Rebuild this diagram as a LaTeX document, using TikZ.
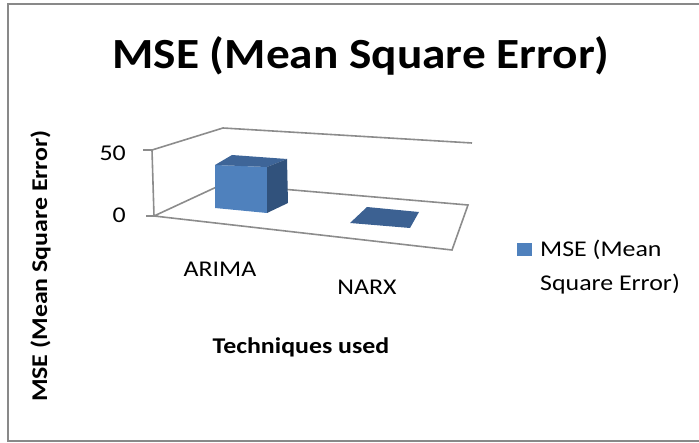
\documentclass[tikz,border=0pt]{standalone}
\usepackage{fontspec}
\setmainfont{Carlito}
\newfontfamily\chartfont{Carlito}[FakeStretch=1.15]
\newfontfamily\headfont{Carlito}[FakeStretch=1.1]
\usetikzlibrary{positioning}

\definecolor{framegray}{RGB}{137,137,137}
\definecolor{axisgray}{RGB}{140,140,140}
\definecolor{barfront}{RGB}{79,129,189}
\definecolor{bartop}{RGB}{62,101,152}
\definecolor{barside}{RGB}{49,82,124}
\definecolor{barflat}{RGB}{60,97,146}

\begin{document}
\begin{tikzpicture}[x=1pt,y=-1pt,
  axisline/.style={draw=axisgray, line width=1.6pt},
  ticklabel/.style={font=\chartfont\fontsize{22.5}{26}\selectfont, anchor=base east, inner sep=0pt},
  catlabel/.style={font=\chartfont\fontsize{22.5}{26}\selectfont, anchor=base, inner sep=0pt},
  boldlabel/.style={font=\chartfont\bfseries\fontsize{22.5}{26}\selectfont, anchor=base, inner sep=0pt}]
  \useasboundingbox (0,0) rectangle (699,443);
  % Chart frame (right side runs off the page)
  \draw[framegray, line width=1.5pt] (705,4) -- (8,4) -- (8,441) -- (705,441);
  % Title
  \node[font=\headfont\bfseries\fontsize{43}{50}\selectfont, anchor=base, inner sep=0pt] (title) at (361,69) {MSE (Mean Square Error)};
  % Walls and floor
  \coordinate (lt) at (152,150);
  \coordinate (lb) at (154,216);
  \coordinate (bt) at (223,128);
  \coordinate (bb) at (223,184);
  \coordinate (rt) at (472,143);
  \coordinate (rb) at (468,205);
  \coordinate (fr) at (452,250);
  \draw[axisline] (lt) -- (bt) -- (rt);
  \draw[axisline] (lb) -- (bb) -- (rb) -- (fr) -- cycle;
  \draw[axisline] (lt) -- (lb);
  % Ticks
  \draw[axisline] (143,150) -- (lt);
  \draw[axisline] (146,216) -- (lb);
  \node[ticklabel] (y50) at (126,161) {50};
  \node[ticklabel] (y0) at (126,223) {0};
  % ARIMA bar
  \fill[barfront] (215,165) -- (267,167) -- (267,213) -- (215,208) -- cycle;
  \fill[bartop] (215,165) -- (232,155) -- (287,159) -- (267,167) -- cycle;
  \fill[barside] (267,167) -- (287,159) -- (288,203) -- (267,213) -- cycle;
  % NARX bar (zero height)
  \fill[barflat] (350,223) -- (367,207) -- (419,212) -- (410,228) -- cycle;
  % Category labels
  \node[catlabel] (arima) at (220,277) {ARIMA};
  \node[catlabel] (narx) at (367,295) {NARX};
  % Axis titles
  \node[boldlabel] (xtitle) at (301,354) {Techniques used};
  \node[boldlabel, rotate=90] (ytitle) at (47,266) {MSE (Mean Square Error)};
  % Legend
  \fill[barfront] (517,243) rectangle (532,256);
  \node[font=\chartfont\fontsize{22.5}{34}\selectfont, anchor=north west, align=left, inner sep=0pt] (legend) at (540,240) {MSE (Mean\\Square Error)};
\end{tikzpicture}
\end{document}
